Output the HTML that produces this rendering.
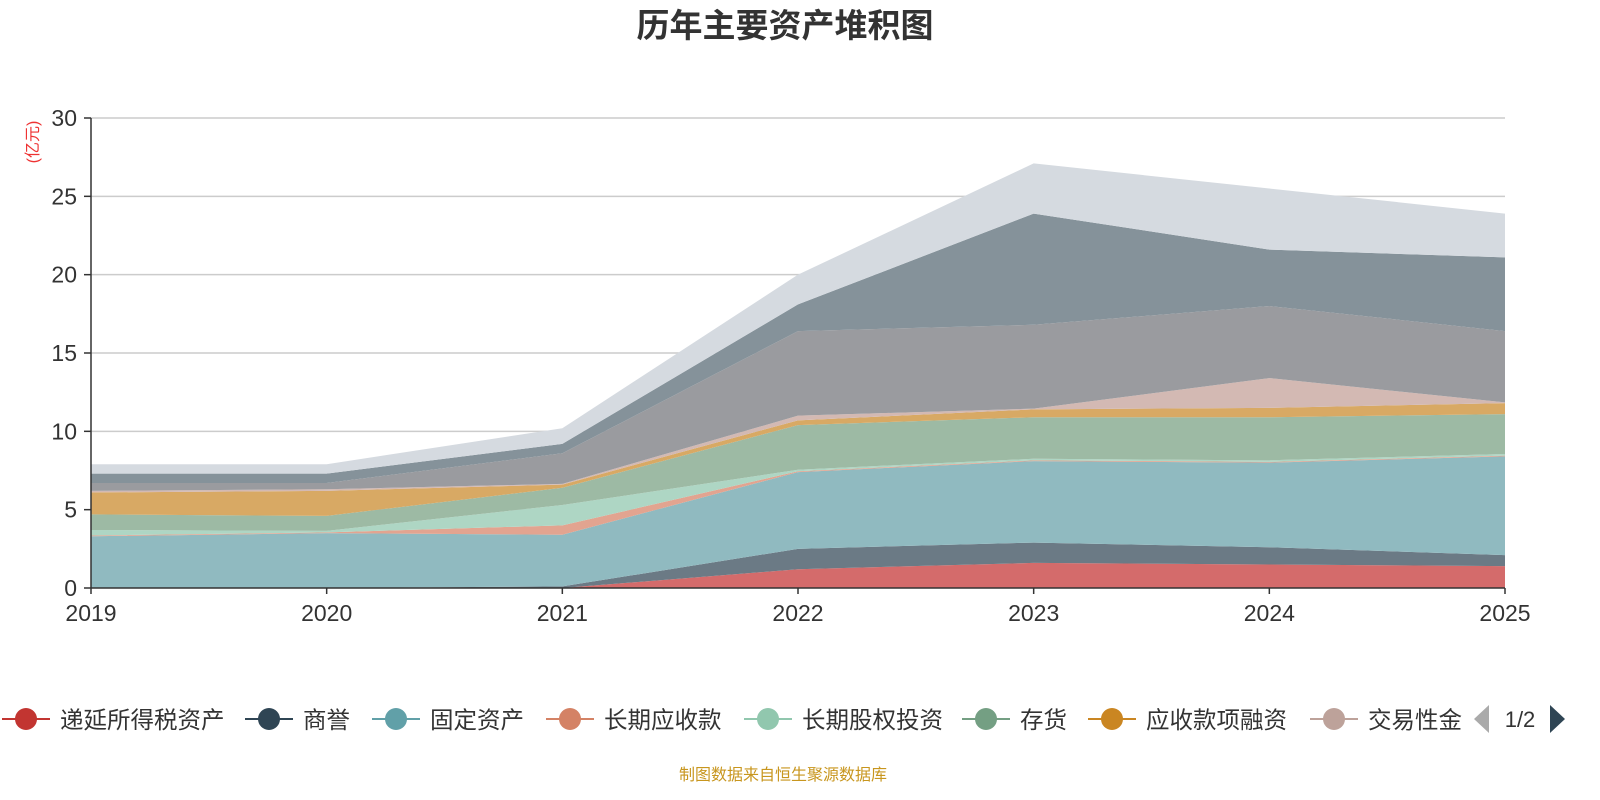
<!DOCTYPE html>
<html><head><meta charset="utf-8"><style>
body{margin:0;background:#fff;font-family:"Liberation Sans","Noto Sans CJK SC",sans-serif}
</style></head><body>
<svg id="c" width="1600" height="800" style="display:block"></svg>
<script>
const years=['2019','2020','2021','2022','2023','2024','2025'];
const names=['递延所得税资产','商誉','固定资产','长期应收款','长期股权投资','存货','应收款项融资','交易性金融资产','其他1','其他2','其他3'];
const s0=[0,0,0,1.2,1.6,1.5,1.4];
const s1=[0,0,0.1,1.3,1.3,1.1,0.7];
const s2=[3.3,3.5,3.3,4.9,5.2,5.4,6.3];
const s3=[0.05,0.05,0.6,0.05,0.05,0.05,0.05];
const s4=[0.35,0.1,1.3,0.1,0.1,0.1,0.1];
const s5=[1.0,0.95,1.1,2.85,2.65,2.75,2.55];
const s6=[1.4,1.6,0.2,0.3,0.5,0.6,0.7];
const s7=[0.1,0.1,0.05,0.3,0.05,1.9,0.05];
const s8=[0.5,0.4,1.95,5.4,5.35,4.6,4.55];
const s9=[0.6,0.6,0.6,1.7,7.1,3.6,4.7];
const s10=[0.6,0.6,1.0,1.9,3.2,3.9,2.8];
const yTicks=[0,5,10,15,20,25,30];
const series=[s0,s1,s2,s3,s4,s5,s6,s7,s8,s9,s10];
const fills=['#d46b6b','#6b7a85','#90bac0','#e2a490','#aed6c4','#9dbaa4','#d8a964','#d3b9b3','#9a9b9f','#85929a','#d5dae0'];
const legCol=['#c23531','#2f4554','#61a0a8','#d48265','#91c7ae','#749f83','#ca8622','#bda29a'];
const NS='http://www.w3.org/2000/svg';
const svg=document.getElementById('c');
const X0=91,X1=1505,Y0=588,Y1=118,YMAX=30;
const xs=i=>X0+(X1-X0)*i/(years.length-1);
const ys=v=>Y0-(Y0-Y1)*v/YMAX;
function mk(t,a,p){const e=document.createElementNS(NS,t);for(const k in a)e.setAttribute(k,a[k]);(p||svg).appendChild(e);return e;}
let t=mk('text',{x:785,y:37,'text-anchor':'middle','font-size':33,'font-weight':'bold',fill:'#333'});t.textContent='历年主要资产堆积图';


t=mk('text',{x:38,y:142,'text-anchor':'middle','font-size':16,fill:'#e33',transform:'rotate(-90 38 142)'});t.textContent='(亿元)';


yTicks.forEach(v=>{
 if(v>0){const g=mk('line',{x1:X0,x2:X1,y1:ys(v),y2:ys(v),stroke:'#ccc','stroke-width':1.5});
 
 }
 mk('line',{x1:X0-7,x2:X0,y1:ys(v),y2:ys(v),stroke:'#333','stroke-width':1.5});
 const l=mk('text',{x:X0-14,y:ys(v)+8,'text-anchor':'end','font-size':23,fill:'#333'});l.textContent=v;
 
 
});
let base=years.map(()=>0);
series.forEach((s,k)=>{
 const top=base.map((b,i)=>b+s[i]);
 let d='M'+top.map((v,i)=>xs(i)+','+ys(v)).join('L');
 for(let i=years.length-1;i>=0;i--)d+='L'+xs(i)+','+ys(base[i]);
 const p=mk('path',{d:d+'Z',fill:fills[k]});
 
 
 base=top;
});
mk('line',{x1:X0,x2:X0,y1:Y1,y2:Y0,stroke:'#333','stroke-width':1.5});
mk('line',{x1:X0,x2:X1,y1:Y0,y2:Y0,stroke:'#333','stroke-width':1.5});
years.forEach((y,i)=>{
 mk('line',{x1:xs(i),x2:xs(i),y1:Y0,y2:Y0+6,stroke:'#333','stroke-width':1.5});
 const l=mk('text',{x:xs(i),y:621,'text-anchor':'middle','font-size':23,fill:'#333'});l.textContent=y;
 
 
});
const lx=[2,245,372,546,744,962,1088,1310];
for(let k=0;k<8;k++){
 const g=mk('g',{});
 
 
 mk('line',{x1:lx[k],x2:lx[k]+48,y1:719,y2:719,stroke:legCol[k],'stroke-width':2},g);
 mk('circle',{cx:lx[k]+24,cy:719,r:11,fill:legCol[k]},g);
 const l=mk('text',{x:lx[k]+58,y:728,'font-size':23.5,fill:'#333'},g);
 l.textContent=k==7?'交易性金':names[k];
}
const pa=mk('polygon',{points:'1474,719 1489,705 1489,733',fill:'#aaa'});

t=mk('text',{x:1520,y:727,'text-anchor':'middle','font-size':22,fill:'#333'});t.textContent='1/2';
const na=mk('polygon',{points:'1565,719 1550,705 1550,733',fill:'#2f4554'});

t=mk('text',{x:783,y:780,'text-anchor':'middle','font-size':16,fill:'#c8961e'});t.textContent='制图数据来自恒生聚源数据库';


</script>
</body></html>
